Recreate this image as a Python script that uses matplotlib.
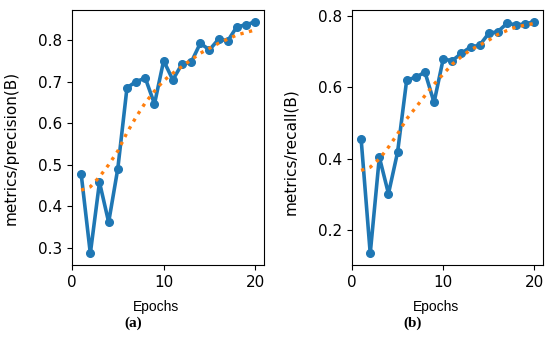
import numpy as np
import matplotlib
matplotlib.use('Agg')
import matplotlib.pyplot as plt

# data
epochs = np.arange(1, 21)
precision = [0.478, 0.287, 0.458, 0.362, 0.491, 0.685, 0.700, 0.708, 0.646, 0.750,
             0.704, 0.742, 0.746, 0.792, 0.776, 0.802, 0.798, 0.832, 0.836, 0.844]
precision_smooth = [0.439, 0.447, 0.471, 0.500, 0.533, 0.577, 0.615, 0.649, 0.677, 0.702,
                    0.720, 0.736, 0.752, 0.768, 0.780, 0.792, 0.802, 0.812, 0.818, 0.824]
recall = [0.455, 0.135, 0.404, 0.302, 0.418, 0.620, 0.627, 0.642, 0.557, 0.678,
          0.674, 0.694, 0.712, 0.717, 0.750, 0.755, 0.778, 0.774, 0.776, 0.783]
recall_smooth = [0.367, 0.376, 0.399, 0.432, 0.469, 0.511, 0.543, 0.576, 0.608, 0.636,
                 0.664, 0.685, 0.704, 0.717, 0.731, 0.747, 0.758, 0.768, 0.773, 0.778]

W, H = 550, 353
fig = plt.figure(figsize=(W/100, H/100), dpi=100)

panels = [
    (72, 264, precision, precision_smooth, 'metrics/precision(B)', [0.3, 0.4, 0.5, 0.6, 0.7, 0.8], 0.46, '(a)'),
    (352, 543, recall, recall_smooth, 'metrics/recall(B)', [0.2, 0.4, 0.6, 0.8], 0.445, '(b)'),
]

for x0, x1, y, ys, ylabel, yticks, ly, tag in panels:
    ax = fig.add_axes([x0/W, (H-265)/H, (x1-x0)/W, 255/H])
    ax.plot(epochs, y, marker='.', color='#1f77b4', linewidth=2.6, markersize=11)
    ax.plot(epochs, ys, ':', color='#ff7f0e', linewidth=2.4)
    ax.set_xticks([0, 10, 20])
    ax.set_yticks(yticks)
    ax.tick_params(labelsize=11, length=3.5, width=0.8)
    ax.set_ylabel(ylabel, fontsize=11)
    ax.yaxis.set_label_coords(-0.28, ly)
    for s in ax.spines.values():
        s.set_linewidth(0.8)
    xc = (x0 + x1) / 2
    fig.text((xc - 12)/W, 1 - 307/H, 'Epochs', ha='center', va='center',
             fontsize=10, family='Liberation Sans')
    fig.text((xc - 35)/W, 1 - 323/H, tag, ha='center', va='center',
             fontsize=11, family='Liberation Serif', fontweight='bold')

fig.savefig('out.png', dpi=100)
